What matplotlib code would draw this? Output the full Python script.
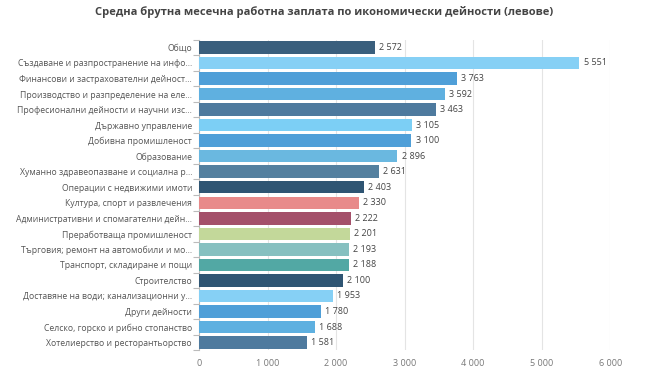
import matplotlib.pyplot as plt
import numpy as np

plt.rcParams['font.family'] = ['Open Sans', 'DejaVu Sans']

kategorii = ['Общо', 'Създаване и разпространение на инфо...',
             'Финансови и застрахователни дейност...', 'Производство и разпределение на еле...',
             'Професионални дейности и научни изс...', 'Държавно управление',
             'Добивна промишленост', 'Образование', 'Хуманно здравеопазване и социална р...',
             'Операции с недвижими имоти', 'Култура, спорт и развлечения',
             'Административни и спомагателни дейн...', 'Преработваща промишленост',
             'Търговия; ремонт на автомобили и мо...', 'Транспорт, складиране и пощи',
             'Строителство', 'Доставяне на води; канализационни у...', 'Други дейности',
             'Селско, горско и рибно стопанство', 'Хотелиерство и ресторантьорство']
zaplati = [2572, 5551, 3763, 3592, 3463, 3105, 3100, 2896, 2631, 2403,
           2330, 2222, 2201, 2193, 2188, 2100, 1953, 1780, 1688, 1581]
boi = ['#3a5f7d', '#86d0f5', '#4f9fd8', '#5fb0e0', '#4e7a9e', '#7ccff5', '#4f9fd8',
       '#6ab8e0', '#54809f', '#2f5573', '#e88a8a', '#a4506a', '#c3d89a', '#86c0c0',
       '#52a8a4', '#2f5573', '#86d0f5', '#4f9fd8', '#5eb0e0', '#4e7a9e']
x_tikove = [0, 1000, 2000, 3000, 4000, 5000, 6000]

def fmt(v):
    return f'{v:,}'.replace(',', ' ')

fig = plt.figure(figsize=(6.45, 3.85), dpi=100)
ax = fig.add_axes([0.3085, 0.09, 0.6375, 0.807])

y = np.arange(len(kategorii))
ax.barh(y, zaplati, height=0.8, color=boi, zorder=3)
for yi, v in zip(y, zaplati):
    ax.text(v + 60, yi, fmt(v), va='center', ha='left', fontsize=6.5, color='#444444')

ax.set_ylim(len(kategorii) - 0.5, -0.5)
ax.set_xlim(0, 6000)
ax.set_yticks(y)
ax.set_yticklabels(kategorii, fontsize=6.2, color='#555555')
ax.set_yticks(np.arange(-0.5, len(kategorii)), minor=True)
ax.tick_params(axis='y', which='major', length=0, pad=5)
ax.tick_params(axis='y', which='minor', length=4, color='#bbbbbb', width=0.8)
ax.set_xticks(x_tikove)
ax.set_xticklabels([fmt(t) for t in x_tikove], fontsize=6.5, color='#777777')
ax.tick_params(axis='x', length=0, pad=6)
ax.grid(axis='x', color='#e4e4e4', linewidth=0.8, zorder=0)
for s in ['top', 'right', 'bottom']:
    ax.spines[s].set_visible(False)
ax.spines['left'].set_color('#bbbbbb')
ax.spines['left'].set_linewidth(0.8)

fig.text(0.503, 0.968, 'Средна брутна месечна работна заплата по икономически дейности (левове)',
         ha='center', va='center', fontsize=8, fontweight='bold', color='#444444')

fig.savefig('out.png', dpi=100)
